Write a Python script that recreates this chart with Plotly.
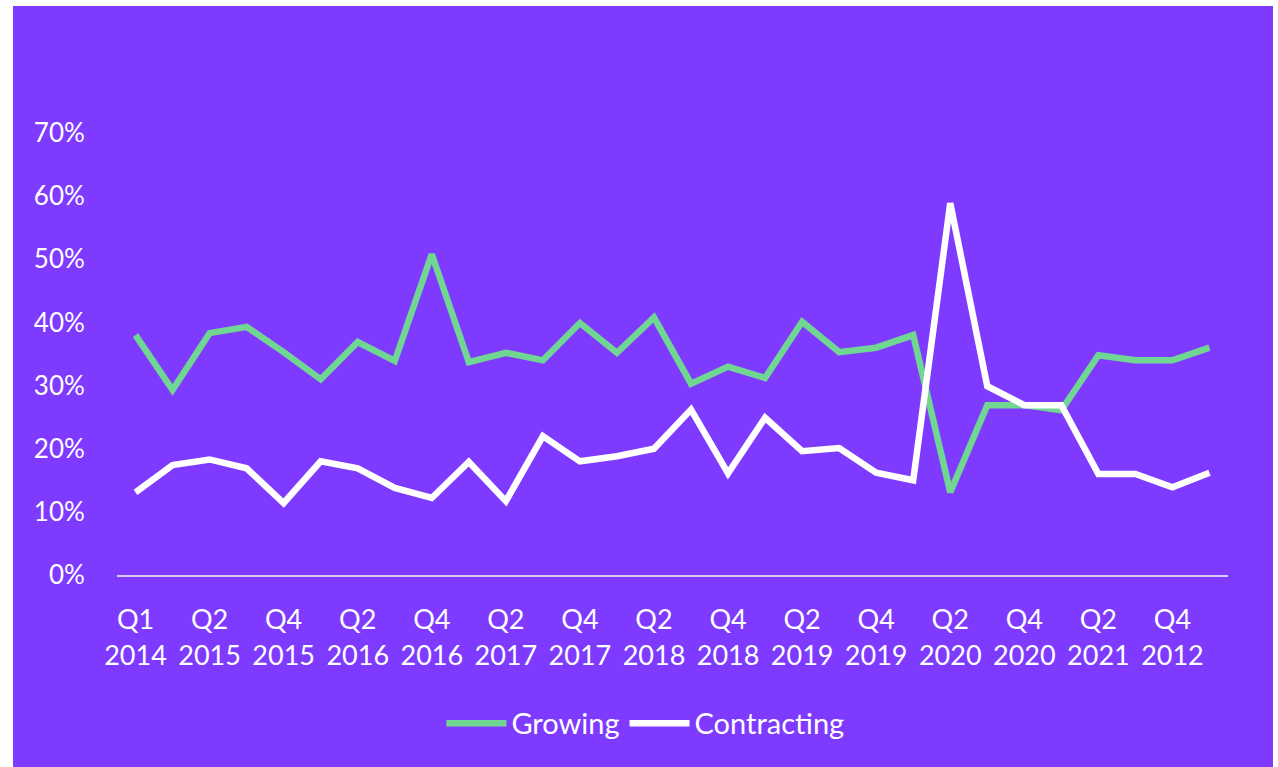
import plotly.graph_objects as go

quarters = ["Q1 2014", "Q4 2014", "Q2 2015", "Q3 2015", "Q4 2015", "Q1 2016", "Q2 2016", "Q3 2016",
            "Q4 2016", "Q1 2017", "Q2 2017", "Q3 2017", "Q4 2017", "Q1 2018", "Q2 2018", "Q3 2018",
            "Q4 2018", "Q1 2019", "Q2 2019", "Q3 2019", "Q4 2019", "Q1 2020", "Q2 2020", "Q3 2020",
            "Q4 2020", "Q1 2021", "Q2 2021", "Q3 2021", "Q4 2012", "Q1 2022"]

growing = [0.380, 0.293, 0.383, 0.393, 0.353, 0.310, 0.369, 0.339, 0.508, 0.337,
           0.352, 0.340, 0.399, 0.352, 0.408, 0.303, 0.330, 0.312, 0.401, 0.353,
           0.360, 0.380, 0.131, 0.269, 0.269, 0.261, 0.348, 0.340, 0.340, 0.360]

contracting = [0.131, 0.174, 0.183, 0.169, 0.114, 0.180, 0.169, 0.138, 0.122, 0.179,
               0.117, 0.220, 0.180, 0.188, 0.200, 0.262, 0.161, 0.249, 0.196, 0.201,
               0.162, 0.150, 0.589, 0.299, 0.269, 0.269, 0.160, 0.160, 0.139, 0.162]

tick_quarters = quarters[::2]
tick_labels = [q.replace(" ", "<br>") for q in tick_quarters]

PURPLE = "#7E3BFF"
GREEN = "#6FD792"
FONT = "Lato"

fig = go.Figure()
fig.add_trace(go.Scatter(x=quarters, y=growing, mode="lines", name="Growing",
                         line=dict(color=GREEN, width=6.5, shape="linear")))
fig.add_trace(go.Scatter(x=quarters, y=contracting, mode="lines", name="Contracting",
                         line=dict(color="white", width=6.5, shape="linear")))

fig.update_layout(
    width=1278, height=767,
    margin=dict(l=117, r=50, t=133, b=192),
    paper_bgcolor="white",
    plot_bgcolor="rgba(0,0,0,0)",
    font=dict(family=FONT, color="white", size=26),
    showlegend=True,
    legend=dict(orientation="h", xref="container", yref="container",
                x=0.505, y=0.057, xanchor="center", yanchor="middle",
                font=dict(size=29, color="white"), bgcolor="rgba(0,0,0,0)",
                itemwidth=60, traceorder="normal"),
    shapes=[dict(type="rect", xref="paper", yref="paper",
                 x0=(13 - 117) / 1111, x1=(1273 - 117) / 1111,
                 y0=-0.45, y1=(575 - 6) / 442,
                 fillcolor=PURPLE, line=dict(width=0), layer="below")],
    xaxis=dict(type="category", range=[-0.5, len(quarters) - 0.5],
               tickvals=tick_quarters, ticktext=tick_labels,
               showgrid=False, zeroline=False,
               showline=True, linecolor="#D8CEF5", linewidth=2,
               ticks="outside", ticklen=20, tickcolor="rgba(0,0,0,0)",
               tickfont=dict(size=27, color="white"), tickangle=0),
    yaxis=dict(range=[0, 0.7], dtick=0.1, tickformat=".0%",
               showgrid=False, zeroline=False, showline=False,
               ticks="outside", ticklen=26, tickcolor="rgba(0,0,0,0)",
               tickfont=dict(size=26, color="white")),
)

fig.write_html("out.html")
